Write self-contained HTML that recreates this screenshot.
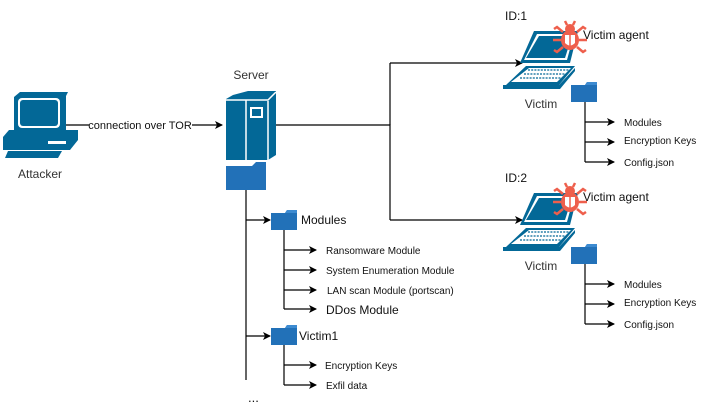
<!DOCTYPE html>
<html><head><meta charset="utf-8"><style>
html,body{margin:0;padding:0;background:#fff;}
svg{display:block;font-family:"Liberation Sans",Arial,sans-serif;}
</style></head><body>
<svg width="703" height="416" viewBox="0 0 703 416" xmlns="http://www.w3.org/2000/svg">
<defs>
<marker id="a" markerWidth="8" markerHeight="8" refX="7" refY="4" orient="auto" markerUnits="userSpaceOnUse">
<path d="M0,0 L8,4 L0,8 L2,4 Z" fill="#000"/></marker>
<g id="laptop">
<path d="M31,1 L75,1 L67,33 L17,33 Z" fill="#036897"/>
<path d="M34,4 L71,4 L64,30 L21,30 Z" fill="#fff"/>
<path d="M36,6 L69,6 L62,28 L23,28 Z" fill="#036897"/>
<path d="M23,36 L72,36 L56,55 L3,55 Z" fill="#036897"/>
<path d="M26,38 L68,38 L54,52 L8,52 Z" fill="#fff"/>
<path d="M25,40 L66,40 M21,44 L62,44 M17,48 L58,48" stroke="#036897" stroke-width="1.2" stroke-dasharray="2,1.2"/>
<path d="M0,55 L56,55 L72,38 L72,41 L57,59 L0,59 Z" fill="#036897"/>
</g>
<g id="bug">
<ellipse cx="0" cy="2" rx="9" ry="10" fill="#ee5f4c"/>
<circle cx="0" cy="-9" r="5" fill="#ee5f4c"/>
<path d="M-7,-6 L-13,-11 L-16,-9 M7,-6 L13,-11 L16,-9 M-9,2 L-17,2 M9,2 L17,2 M-7,9 L-13,14 L-16,12 M7,9 L13,14 L16,12 M-3,-13 L-5,-17 M3,-13 L5,-17" stroke="#ee5f4c" stroke-width="2.5" fill="none"/>
<path d="M-5,-3 L5,-3 L5,5 Q0,10 -5,5 Z" fill="#fff"/>
<path d="M0,-3 L0,8" stroke="#ee5f4c" stroke-width="1.5"/>
</g>
<g id="folder">
<path d="M0,3 L14,3 L16,0 L26,0 L26,20 L0,20 Z" fill="#2271b8"/>
<path d="M14,3 L16,0 L26,0 L26,3 Z" fill="#3d8bd1"/>
</g>
</defs>

<!-- Attacker -->
<path d="M20,92 L68,92 L66,96 L66,130 L14,130 L14,97 Z" fill="#036897"/>
<rect x="18" y="98" width="42" height="30" rx="4" fill="#fff"/>
<rect x="20" y="100" width="38" height="26" rx="3" fill="#036897"/>
<path d="M9,130 L78,130 L78,140 L70,150 L3,150 L3,137 Z" fill="#036897"/>
<rect x="48" y="141" width="18" height="3" fill="#fff"/>
<path d="M8,151 L62,151 L58,158 L5,158 Z" fill="#036897"/>
<text x="40" y="178" font-size="12" text-anchor="middle" fill="#333">Attacker</text>

<line x1="66" y1="125" x2="222" y2="125" stroke="#000" stroke-width="1.2" marker-end="url(#a)"/>
<rect x="89" y="118" width="103" height="14" fill="#fff"/>
<text x="140" y="129" font-size="11" text-anchor="middle" fill="#111">connection over TOR</text>

<!-- Server -->
<text x="251" y="79" font-size="12" text-anchor="middle" fill="#333">Server</text>
<path d="M233,95 L248,91 L276,91 L276,155 L268,160 L226,160 L226,99 Z" fill="#036897"/>
<path d="M246,100 L246,160 M268,101 L268,160 M226,100 L268,100 L276,92" stroke="#fff" stroke-width="1.5" fill="none"/>
<rect x="250" y="107" width="13" height="11" fill="#fff"/>
<rect x="252" y="109" width="9" height="7" fill="#036897"/>
<path d="M226,166 L252,166 L256,162 L266,162 L266,190 L226,190 Z" fill="#2271b8"/>

<!-- server to victims -->
<path d="M276,125 L390,125 L390,220" stroke="#000" stroke-width="1.2" fill="none"/>
<path d="M390,125 L390,63" stroke="#000" stroke-width="1.2"/>
<line x1="390" y1="63" x2="522" y2="63" stroke="#000" stroke-width="1.2" marker-end="url(#a)"/>
<line x1="390" y1="220" x2="522" y2="220" stroke="#000" stroke-width="1.2" marker-end="url(#a)"/>

<!-- Victim 1 -->
<text x="505" y="20" font-size="12" fill="#111">ID:1</text>
<use href="#laptop" x="503" y="30"/>
<use href="#bug" x="570" y="38"/>
<text x="583" y="39" font-size="12" fill="#111">Victim agent</text>
<text x="541" y="108" font-size="12" text-anchor="middle" fill="#333">Victim</text>
<use href="#folder" x="571" y="82"/>
<path d="M585,102 L585,162" stroke="#000" stroke-width="1.2"/>
<line x1="585" y1="122" x2="614" y2="122" stroke="#000" stroke-width="1.2" marker-end="url(#a)"/>
<line x1="585" y1="142" x2="614" y2="142" stroke="#000" stroke-width="1.2" marker-end="url(#a)"/>
<line x1="585" y1="162" x2="614" y2="162" stroke="#000" stroke-width="1.2" marker-end="url(#a)"/>
<text x="624" y="126" font-size="10" fill="#111">Modules</text>
<text x="624" y="144" font-size="10" fill="#111">Encryption Keys</text>
<text x="624" y="166" font-size="10" fill="#111">Config.json</text>

<!-- Victim 2 -->
<text x="505" y="182" font-size="12" fill="#111">ID:2</text>
<use href="#laptop" x="503" y="192"/>
<use href="#bug" x="570" y="200"/>
<text x="583" y="201" font-size="12" fill="#111">Victim agent</text>
<text x="541" y="270" font-size="12" text-anchor="middle" fill="#333">Victim</text>
<use href="#folder" x="571" y="244"/>
<path d="M585,264 L585,324" stroke="#000" stroke-width="1.2"/>
<line x1="585" y1="284" x2="614" y2="284" stroke="#000" stroke-width="1.2" marker-end="url(#a)"/>
<line x1="585" y1="304" x2="614" y2="304" stroke="#000" stroke-width="1.2" marker-end="url(#a)"/>
<line x1="585" y1="324" x2="614" y2="324" stroke="#000" stroke-width="1.2" marker-end="url(#a)"/>
<text x="624" y="288" font-size="10" fill="#111">Modules</text>
<text x="624" y="306" font-size="10" fill="#111">Encryption Keys</text>
<text x="624" y="328" font-size="10" fill="#111">Config.json</text>

<!-- Server tree -->
<path d="M246,190 L246,380" stroke="#000" stroke-width="1.2"/>
<line x1="246" y1="220" x2="270" y2="220" stroke="#000" stroke-width="1.2" marker-end="url(#a)"/>
<use href="#folder" x="271" y="210"/>
<text x="301" y="224" font-size="12" fill="#111">Modules</text>
<path d="M284,230 L284,309" stroke="#000" stroke-width="1.2"/>
<line x1="284" y1="250" x2="316" y2="250" stroke="#000" stroke-width="1.2" marker-end="url(#a)"/>
<line x1="284" y1="270" x2="316" y2="270" stroke="#000" stroke-width="1.2" marker-end="url(#a)"/>
<line x1="284" y1="290" x2="316" y2="290" stroke="#000" stroke-width="1.2" marker-end="url(#a)"/>
<line x1="284" y1="309" x2="316" y2="309" stroke="#000" stroke-width="1.2" marker-end="url(#a)"/>
<text x="326" y="254" font-size="10" fill="#111">Ransomware Module</text>
<text x="326" y="274" font-size="10" fill="#111">System Enumeration Module</text>
<text x="327" y="294" font-size="10" fill="#111">LAN scan Module (portscan)</text>
<text x="326" y="314" font-size="12" fill="#111">DDos Module</text>

<line x1="246" y1="336" x2="270" y2="336" stroke="#000" stroke-width="1.2" marker-end="url(#a)"/>
<use href="#folder" x="271" y="325"/>
<text x="299" y="340" font-size="12" fill="#111">Victim1</text>
<path d="M284,345 L284,385" stroke="#000" stroke-width="1.2"/>
<line x1="284" y1="365" x2="316" y2="365" stroke="#000" stroke-width="1.2" marker-end="url(#a)"/>
<line x1="284" y1="385" x2="316" y2="385" stroke="#000" stroke-width="1.2" marker-end="url(#a)"/>
<text x="325" y="369" font-size="10" fill="#111">Encryption Keys</text>
<text x="326" y="389" font-size="10" fill="#111">Exfil data</text>
<text x="248" y="402" font-size="13" fill="#111">...</text>
</svg>
</body></html>
